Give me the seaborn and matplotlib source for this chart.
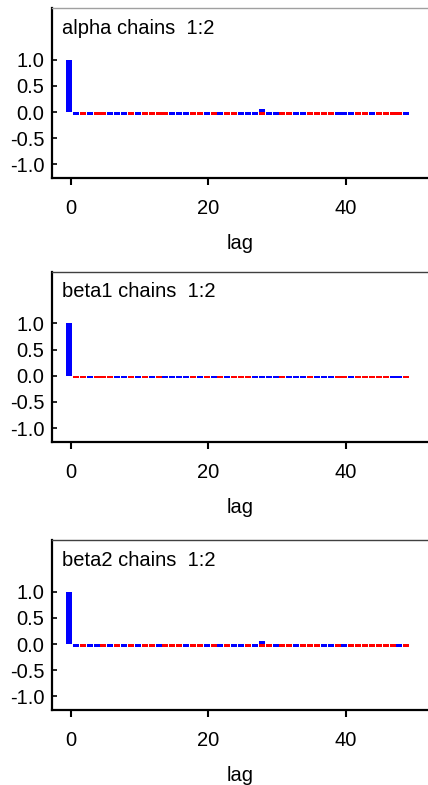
import seaborn as sns
import pandas as pd
import numpy as np
import matplotlib
matplotlib.use("Agg")
import matplotlib.pyplot as plt

# autocorrelation by lag, chain 1 (blue) and chain 2 (red)
lags = list(range(50))

alpha_chain1 = [1.0, -.05, 0, -.05, 0, 0, -.05, -.05, -.05, 0,
                -.05, 0, 0, 0, 0, -.05, -.05, -.05, 0, 0,
                -.05, 0, -.05, 0, 0, -.05, -.05, -.05, .05, -.05,
                -.05, 0, 0, -.05, -.05, 0, 0, 0, 0, -.05,
                -.05, -.05, 0, 0, -.05, 0, 0, 0, 0, -.05]
alpha_chain2 = [1.0, 0, -.05, 0, -.05, -.05, 0, 0, 0, -.05,
                0, -.05, -.05, -.05, -.05, 0, 0, 0, -.05, -.05,
                0, -.05, 0, -.05, -.05, 0, 0, 0, -.05, 0,
                0, -.05, -.05, 0, 0, -.05, -.05, -.05, -.05, 0,
                0, 0, -.05, -.05, 0, -.05, -.05, -.05, -.05, 0]

beta1_chain1 = [1.0, 0, 0, -.05, 0, 0, 0, -.05, -.05, 0,
                -.05, 0, -.05, 0, -.05, -.05, -.05, -.05, 0, -.05,
                0, -.05, 0, -.05, 0, 0, 0, -.05, -.05, -.05,
                -.05, 0, -.05, -.05, -.05, 0, -.05, -.05, -.05, 0,
                0, -.05, 0, 0, 0, 0, 0, -.05, -.05, 0]
beta1_chain2 = [1.0, -.05, -.05, 0, -.05, -.05, -.05, 0, 0, -.05,
                0, -.05, 0, -.05, 0, 0, 0, 0, -.05, 0,
                -.05, 0, -.05, 0, -.05, -.05, -.05, 0, 0, 0,
                0, -.05, 0, 0, 0, -.05, 0, 0, 0, -.05,
                -.05, 0, -.05, -.05, -.05, -.05, -.05, 0, 0, -.05]

beta2_chain1 = [1.0, -.05, 0, -.05, -.05, 0, -.05, 0, -.05, 0,
                -.05, 0, 0, -.05, 0, 0, 0, -.05, 0, 0,
                -.05, 0, -.05, 0, -.05, -.05, 0, -.05, .05, 0,
                -.05, 0, 0, -.05, 0, 0, 0, -.05, -.05, 0,
                -.05, 0, 0, 0, 0, 0, 0, 0, -.05, 0]
beta2_chain2 = [1.0, 0, -.05, 0, 0, -.05, 0, -.05, 0, -.05,
                0, -.05, -.05, 0, -.05, -.05, -.05, 0, -.05, -.05,
                0, -.05, 0, -.05, 0, 0, -.05, 0, -.05, -.05,
                0, -.05, -.05, 0, -.05, -.05, -.05, 0, 0, -.05,
                0, -.05, -.05, -.05, -.05, -.05, -.05, -.05, 0, -.05]

titles = ["alpha chains  1:2", "beta1 chains  1:2", "beta2 chains  1:2"]
panels = [(alpha_chain1, alpha_chain2), (beta1_chain1, beta1_chain2),
          (beta2_chain1, beta2_chain2)]
x_ticks = [0, 20, 40]
y_ticks = [-1.0, -0.5, 0.0, 0.5, 1.0]

sns.set_theme(style="ticks")
plt.rcParams['font.family'] = ['Liberation Sans', 'DejaVu Sans']
plt.rcParams['text.color'] = 'black'
plt.rcParams['axes.labelcolor'] = 'black'
plt.rcParams['xtick.color'] = 'black'
plt.rcParams['ytick.color'] = 'black'

fs = 14.5
fig = plt.figure(figsize=(4.28, 7.85), dpi=100)
bottoms = [0.7732, 0.4373, 0.0955]
top_colors = ["#a0a0a0", "#404040", "#404040"]
bar_shift = -0.245  # bars sit slightly left of the lag tick

for i, (c1, c2) in enumerate(panels):
    ax = fig.add_axes([0.1215, bottoms[i], 0.8785, 0.216])
    df = pd.DataFrame({"lag": np.array(lags) + bar_shift, "c1": c1, "c2": c2})
    sns.barplot(data=df, x="lag", y="c2", native_scale=True, orient="x",
                color="#ff0000", saturation=1, width=0.87, errorbar=None,
                linewidth=0, edgecolor="none", ax=ax)
    sns.barplot(data=df, x="lag", y="c1", native_scale=True, orient="x",
                color="#0000ff", saturation=1, width=0.87, errorbar=None,
                linewidth=0, edgecolor="none", ax=ax)
    ax.set_xlim(-2.72, 51.9)
    ax.set_ylim(-1.26, 1.98)
    ax.set_xticks(x_ticks)
    ax.set_xticklabels([str(t) for t in x_ticks])
    ax.set_yticks(y_ticks)
    ax.set_yticklabels(["%.1f" % t for t in y_ticks])
    ax.tick_params(axis="y", direction="in", length=3.6, width=1.2,
                   pad=5.5, labelsize=fs)
    ax.tick_params(axis="x", direction="out", length=5, width=1.5,
                   pad=10, labelsize=fs)
    ax.set_ylabel("")
    ax.set_xlabel("lag", fontsize=fs, labelpad=11.5)
    ax.spines["right"].set_visible(False)
    for side in ["left", "bottom"]:
        ax.spines[side].set_linewidth(1.6)
        ax.spines[side].set_color("black")
    ax.spines["top"].set_linewidth(1.0)
    ax.spines["top"].set_color(top_colors[i])
    ax.text(0.027, 0.94, titles[i], transform=ax.transAxes,
            ha="left", va="top", fontsize=fs)

fig.savefig("out.png", dpi=100)
